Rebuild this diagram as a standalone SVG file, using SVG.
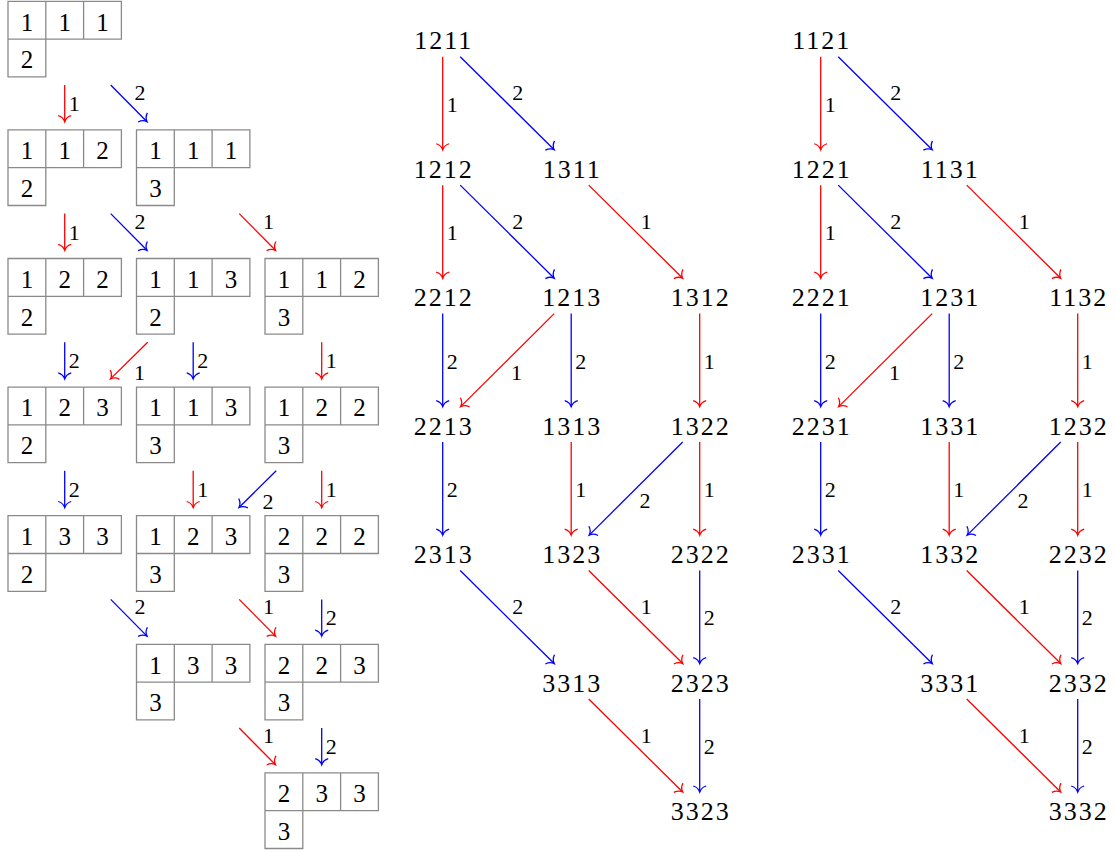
<svg xmlns="http://www.w3.org/2000/svg" width="1116" height="853" viewBox="0 0 1116 853">
<style>
.w{font-family:"Liberation Serif",serif;font-size:26px;letter-spacing:2px;text-anchor:middle;fill:#000}
.d{font-family:"Liberation Serif",serif;font-size:25px;text-anchor:middle;fill:#000}
.l{font-family:"Liberation Serif",serif;font-size:22px;text-anchor:middle;fill:#000}
.r{stroke:#ff0000;stroke-width:1.3;fill:none;marker-end:url(#ar)}
.b{stroke:#0000ff;stroke-width:1.3;fill:none;marker-end:url(#ab)}
.f{stroke:#8a8a8a;stroke-width:1.3;fill:none}
</style>
<defs>
<marker id="ar" markerUnits="userSpaceOnUse" markerWidth="20" markerHeight="20" viewBox="-10 -10 20 20" refX="0" refY="0" orient="auto" overflow="visible"><path d="M-6,-6.5 Q-4.5,-1.5 0,0 Q-4.5,1.5 -6,6.5" fill="none" stroke="#ff0000" stroke-width="1.3"/></marker>
<marker id="ab" markerUnits="userSpaceOnUse" markerWidth="20" markerHeight="20" viewBox="-10 -10 20 20" refX="0" refY="0" orient="auto" overflow="visible"><path d="M-6,-6.5 Q-4.5,-1.5 0,0 Q-4.5,1.5 -6,6.5" fill="none" stroke="#0000ff" stroke-width="1.3"/></marker>
<path id="frame" class="f" d="M0,0 H113.4 V37.8 H0 Z M37.8,0 V75.6 H0 V37.8 M75.6,0 V37.8"/>
</defs>
<rect width="1116" height="853" fill="#fff"/>

<g id="t_111_2" transform="translate(8,1.3)"><use href="#frame"/><text class="d" x="18.9" y="29.4">1</text><text class="d" x="56.7" y="29.4">1</text><text class="d" x="94.5" y="29.4">1</text><text class="d" x="18.9" y="67.2">2</text></g>
<g id="t_112_2" transform="translate(8,129.9)"><use href="#frame"/><text class="d" x="18.9" y="29.4">1</text><text class="d" x="56.7" y="29.4">1</text><text class="d" x="94.5" y="29.4">2</text><text class="d" x="18.9" y="67.2">2</text></g>
<g id="t_111_3" transform="translate(136.5,129.9)"><use href="#frame"/><text class="d" x="18.9" y="29.4">1</text><text class="d" x="56.7" y="29.4">1</text><text class="d" x="94.5" y="29.4">1</text><text class="d" x="18.9" y="67.2">3</text></g>
<g id="t_122_2" transform="translate(8,258.5)"><use href="#frame"/><text class="d" x="18.9" y="29.4">1</text><text class="d" x="56.7" y="29.4">2</text><text class="d" x="94.5" y="29.4">2</text><text class="d" x="18.9" y="67.2">2</text></g>
<g id="t_113_2" transform="translate(136.5,258.5)"><use href="#frame"/><text class="d" x="18.9" y="29.4">1</text><text class="d" x="56.7" y="29.4">1</text><text class="d" x="94.5" y="29.4">3</text><text class="d" x="18.9" y="67.2">2</text></g>
<g id="t_112_3" transform="translate(265,258.5)"><use href="#frame"/><text class="d" x="18.9" y="29.4">1</text><text class="d" x="56.7" y="29.4">1</text><text class="d" x="94.5" y="29.4">2</text><text class="d" x="18.9" y="67.2">3</text></g>
<g id="t_123_2" transform="translate(8,387.1)"><use href="#frame"/><text class="d" x="18.9" y="29.4">1</text><text class="d" x="56.7" y="29.4">2</text><text class="d" x="94.5" y="29.4">3</text><text class="d" x="18.9" y="67.2">2</text></g>
<g id="t_113_3" transform="translate(136.5,387.1)"><use href="#frame"/><text class="d" x="18.9" y="29.4">1</text><text class="d" x="56.7" y="29.4">1</text><text class="d" x="94.5" y="29.4">3</text><text class="d" x="18.9" y="67.2">3</text></g>
<g id="t_122_3" transform="translate(265,387.1)"><use href="#frame"/><text class="d" x="18.9" y="29.4">1</text><text class="d" x="56.7" y="29.4">2</text><text class="d" x="94.5" y="29.4">2</text><text class="d" x="18.9" y="67.2">3</text></g>
<g id="t_133_2" transform="translate(8,515.7)"><use href="#frame"/><text class="d" x="18.9" y="29.4">1</text><text class="d" x="56.7" y="29.4">3</text><text class="d" x="94.5" y="29.4">3</text><text class="d" x="18.9" y="67.2">2</text></g>
<g id="t_123_3" transform="translate(136.5,515.7)"><use href="#frame"/><text class="d" x="18.9" y="29.4">1</text><text class="d" x="56.7" y="29.4">2</text><text class="d" x="94.5" y="29.4">3</text><text class="d" x="18.9" y="67.2">3</text></g>
<g id="t_222_3" transform="translate(265,515.7)"><use href="#frame"/><text class="d" x="18.9" y="29.4">2</text><text class="d" x="56.7" y="29.4">2</text><text class="d" x="94.5" y="29.4">2</text><text class="d" x="18.9" y="67.2">3</text></g>
<g id="t_133_3" transform="translate(136.5,644.3)"><use href="#frame"/><text class="d" x="18.9" y="29.4">1</text><text class="d" x="56.7" y="29.4">3</text><text class="d" x="94.5" y="29.4">3</text><text class="d" x="18.9" y="67.2">3</text></g>
<g id="t_223_3" transform="translate(265,644.3)"><use href="#frame"/><text class="d" x="18.9" y="29.4">2</text><text class="d" x="56.7" y="29.4">2</text><text class="d" x="94.5" y="29.4">3</text><text class="d" x="18.9" y="67.2">3</text></g>
<g id="t_233_3" transform="translate(265,772.9)"><use href="#frame"/><text class="d" x="18.9" y="29.4">2</text><text class="d" x="56.7" y="29.4">3</text><text class="d" x="94.5" y="29.4">3</text><text class="d" x="18.9" y="67.2">3</text></g>

<g id="tableau-connectors">
<path class="r" d="M64.7,85 V121.7"/><text class="l" x="74.2" y="111">1</text>
<path class="b" d="M110.7,85 L147,121.7"/><text class="l" x="139.9" y="100">2</text>
<path class="r" d="M64.7,213.6 V250.3"/><text class="l" x="74.2" y="239.6">1</text>
<path class="b" d="M110.7,213.6 L147,250.3"/><text class="l" x="139.9" y="228.6">2</text>
<path class="r" d="M239.2,213.6 L275.5,250.3"/><text class="l" x="268.4" y="228.6">1</text>
<path class="b" d="M64.7,342.2 V378.9"/><text class="l" x="74.2" y="368.2">2</text>
<path class="r" d="M147.7,342.2 L110.5,378.9"/><text class="l" x="139.4" y="380.1">1</text>
<path class="b" d="M193.2,342.2 V378.9"/><text class="l" x="202.7" y="368.2">2</text>
<path class="r" d="M321.7,342.2 V378.9"/><text class="l" x="331.2" y="368.2">1</text>
<path class="b" d="M64.7,470.8 V507.5"/><text class="l" x="74.2" y="496.8">2</text>
<path class="r" d="M193.2,470.8 V507.5"/><text class="l" x="202.7" y="496.8">1</text>
<path class="b" d="M276.2,470.8 L239,507.5"/><text class="l" x="267.9" y="508.9">2</text>
<path class="r" d="M321.7,470.8 V507.5"/><text class="l" x="331.2" y="496.8">1</text>
<path class="b" d="M110.7,599.4 L147,636.1"/><text class="l" x="139.9" y="614.4">2</text>
<path class="r" d="M239.2,599.4 L275.5,636.1"/><text class="l" x="268.4" y="614.4">1</text>
<path class="b" d="M321.7,599.4 V636.1"/><text class="l" x="331.2" y="625.4">2</text>
<path class="r" d="M239.2,728 L275.5,764.7"/><text class="l" x="268.4" y="743">1</text>
<path class="b" d="M321.7,728 V764.7"/><text class="l" x="331.2" y="754">2</text>
</g>

<g id="n1211"><text class="w" x="443.7" y="49.3">1211</text></g>
<g id="n1212"><text class="w" x="443.7" y="177.75">1212</text></g>
<g id="n1311"><text class="w" x="572.2" y="177.75">1311</text></g>
<g id="n2212"><text class="w" x="443.7" y="306.2">2212</text></g>
<g id="n1213"><text class="w" x="572.2" y="306.2">1213</text></g>
<g id="n1312"><text class="w" x="700.7" y="306.2">1312</text></g>
<g id="n2213"><text class="w" x="443.7" y="434.65">2213</text></g>
<g id="n1313"><text class="w" x="572.2" y="434.65">1313</text></g>
<g id="n1322"><text class="w" x="700.7" y="434.65">1322</text></g>
<g id="n2313"><text class="w" x="443.7" y="563.1">2313</text></g>
<g id="n1323"><text class="w" x="572.2" y="563.1">1323</text></g>
<g id="n2322"><text class="w" x="700.7" y="563.1">2322</text></g>
<g id="n3313"><text class="w" x="572.2" y="691.55">3313</text></g>
<g id="n2323"><text class="w" x="700.7" y="691.55">2323</text></g>
<g id="n3323"><text class="w" x="700.7" y="820">3323</text></g>

<g id="n1121"><text class="w" x="821.7" y="49.3">1121</text></g>
<g id="n1221"><text class="w" x="821.7" y="177.75">1221</text></g>
<g id="n1131"><text class="w" x="950.2" y="177.75">1131</text></g>
<g id="n2221"><text class="w" x="821.7" y="306.2">2221</text></g>
<g id="n1231"><text class="w" x="950.2" y="306.2">1231</text></g>
<g id="n1132"><text class="w" x="1078.7" y="306.2">1132</text></g>
<g id="n2231"><text class="w" x="821.7" y="434.65">2231</text></g>
<g id="n1331"><text class="w" x="950.2" y="434.65">1331</text></g>
<g id="n1232"><text class="w" x="1078.7" y="434.65">1232</text></g>
<g id="n2331"><text class="w" x="821.7" y="563.1">2331</text></g>
<g id="n1332"><text class="w" x="950.2" y="563.1">1332</text></g>
<g id="n2232"><text class="w" x="1078.7" y="563.1">2232</text></g>
<g id="n3331"><text class="w" x="950.2" y="691.55">3331</text></g>
<g id="n2332"><text class="w" x="1078.7" y="691.55">2332</text></g>
<g id="n3332"><text class="w" x="1078.7" y="820">3332</text></g>

<g id="connectors">
<g id="middle-connectors">
<path class="r" d="M442.7,56.7 V149.75"/><text class="l" x="452.2" y="111.6">1</text>
<path class="b" d="M460.2,56.7 L554.2,149.75"/><text class="l" x="517.7" y="100.2">2</text>
<path class="r" d="M442.7,185.15 V278.2"/><text class="l" x="452.2" y="240.1">1</text>
<path class="b" d="M460.2,185.15 L554.2,278.2"/><text class="l" x="517.7" y="228.7">2</text>
<path class="r" d="M588.7,185.15 L682.7,278.2"/><text class="l" x="646.2" y="228.7">1</text>
<path class="b" d="M442.7,313.6 V406.65"/><text class="l" x="452.2" y="368.5">2</text>
<path class="r" d="M554.2,313.6 L460.7,406.65"/><text class="l" x="516.5" y="379.6">1</text>
<path class="b" d="M571.2,313.6 V406.65"/><text class="l" x="580.7" y="368.5">2</text>
<path class="r" d="M699.7,313.6 V406.65"/><text class="l" x="709.2" y="368.5">1</text>
<path class="b" d="M442.7,442.05 V535.1"/><text class="l" x="452.2" y="497">2</text>
<path class="r" d="M571.2,442.05 V535.1"/><text class="l" x="580.7" y="497">1</text>
<path class="b" d="M682.7,442.05 L589.2,535.1"/><text class="l" x="645" y="508.1">2</text>
<path class="r" d="M699.7,442.05 V535.1"/><text class="l" x="709.2" y="497">1</text>
<path class="b" d="M460.2,570.5 L554.2,663.55"/><text class="l" x="517.7" y="614">2</text>
<path class="r" d="M588.7,570.5 L682.7,663.55"/><text class="l" x="646.2" y="614">1</text>
<path class="b" d="M699.7,570.5 V663.55"/><text class="l" x="709.2" y="625.4">2</text>
<path class="r" d="M588.7,698.95 L682.7,792"/><text class="l" x="646.2" y="742.5">1</text>
<path class="b" d="M699.7,698.95 V792"/><text class="l" x="709.2" y="753.9">2</text>
</g>
<g id="right-connectors" transform="translate(378,0)">
<path class="r" d="M442.7,56.7 V149.75"/><text class="l" x="452.2" y="111.6">1</text>
<path class="b" d="M460.2,56.7 L554.2,149.75"/><text class="l" x="517.7" y="100.2">2</text>
<path class="r" d="M442.7,185.15 V278.2"/><text class="l" x="452.2" y="240.1">1</text>
<path class="b" d="M460.2,185.15 L554.2,278.2"/><text class="l" x="517.7" y="228.7">2</text>
<path class="r" d="M588.7,185.15 L682.7,278.2"/><text class="l" x="646.2" y="228.7">1</text>
<path class="b" d="M442.7,313.6 V406.65"/><text class="l" x="452.2" y="368.5">2</text>
<path class="r" d="M554.2,313.6 L460.7,406.65"/><text class="l" x="516.5" y="379.6">1</text>
<path class="b" d="M571.2,313.6 V406.65"/><text class="l" x="580.7" y="368.5">2</text>
<path class="r" d="M699.7,313.6 V406.65"/><text class="l" x="709.2" y="368.5">1</text>
<path class="b" d="M442.7,442.05 V535.1"/><text class="l" x="452.2" y="497">2</text>
<path class="r" d="M571.2,442.05 V535.1"/><text class="l" x="580.7" y="497">1</text>
<path class="b" d="M682.7,442.05 L589.2,535.1"/><text class="l" x="645" y="508.1">2</text>
<path class="r" d="M699.7,442.05 V535.1"/><text class="l" x="709.2" y="497">1</text>
<path class="b" d="M460.2,570.5 L554.2,663.55"/><text class="l" x="517.7" y="614">2</text>
<path class="r" d="M588.7,570.5 L682.7,663.55"/><text class="l" x="646.2" y="614">1</text>
<path class="b" d="M699.7,570.5 V663.55"/><text class="l" x="709.2" y="625.4">2</text>
<path class="r" d="M588.7,698.95 L682.7,792"/><text class="l" x="646.2" y="742.5">1</text>
<path class="b" d="M699.7,698.95 V792"/><text class="l" x="709.2" y="753.9">2</text>
</g>
</g>
</svg>
